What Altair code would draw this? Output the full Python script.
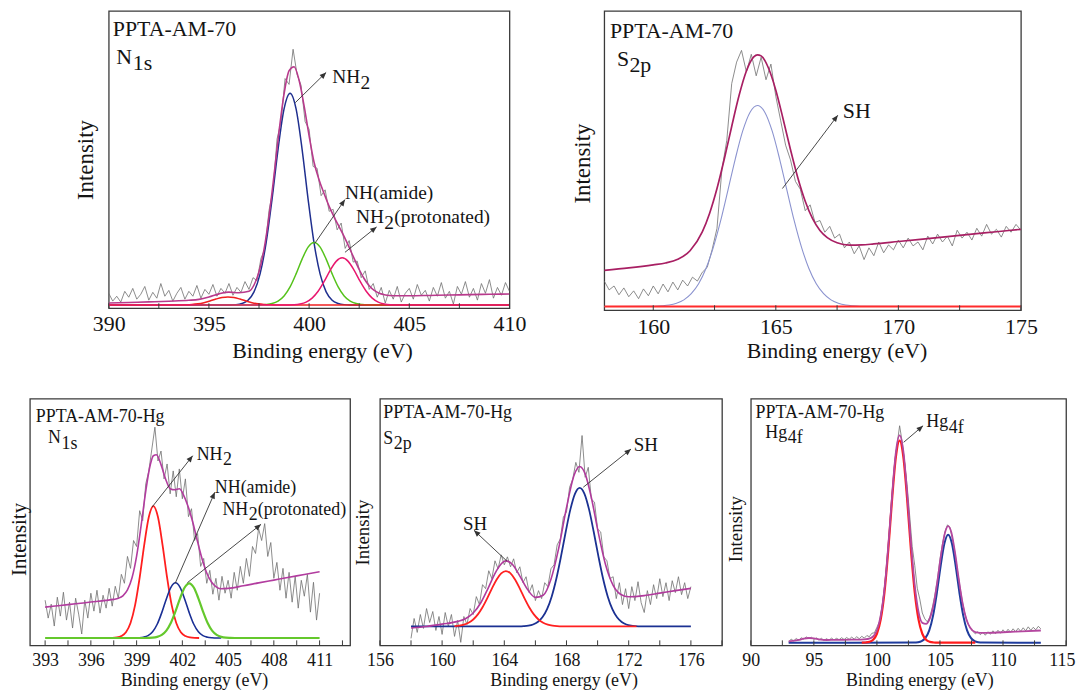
import math
import altair as alt
import pandas as pd

FONT = "Liberation Serif"
INK = "#141414"
FRAME = "#3a3a3a"
GRAY = "#6f6f6f"
ARROW = "#333333"
HEAD = "M0,0L-0.42,1L0.42,1Z"
XTITLE = "Binding energy (eV)"
YTITLE = "Intensity"

# ===================== Panel A : PPTA-AM-70, N1s =====================
A_RAW = [(390.0, 12), (390.2, 4), (390.4, 9), (390.6, 3), (390.8, 14), (391.0, 8), (391.2, 17), (391.4, 6),
         (391.6, 11), (391.8, 19), (392.0, 5), (392.2, 13), (392.4, 7), (392.6, 22), (392.8, 9), (393.0, 15),
         (393.2, 4), (393.4, 12), (393.6, 18), (393.8, 6), (394.0, 14), (394.2, 9), (394.4, 20), (394.6, 7),
         (394.8, 16), (395.0, 11), (395.2, 21), (395.4, 9), (395.6, 17), (395.8, 12), (396.0, 22), (396.2, 10),
         (396.4, 18), (396.6, 13), (396.8, 24), (397.0, 16), (397.2, 28), (397.4, 25), (397.6, 48), (397.8, 58),
         (398.0, 97), (398.2, 118), (398.4, 170), (398.6, 188), (398.8, 232), (399.0, 226), (399.2, 262),
         (399.4, 236), (399.6, 225), (399.8, 188), (400.0, 180), (400.2, 142), (400.4, 140), (400.6, 112),
         (400.8, 118), (401.0, 96), (401.2, 98), (401.4, 77), (401.6, 84), (401.8, 58), (402.0, 66), (402.2, 44),
         (402.4, 45), (402.6, 28), (402.8, 35), (403.0, 16), (403.2, 22), (403.4, 8), (403.6, 18), (403.8, 2),
         (404.0, 15), (404.2, 6), (404.4, 19), (404.6, 3), (404.8, 12), (405.0, 17), (405.2, 6), (405.4, 21),
         (405.6, 10), (405.8, 15), (406.0, 4), (406.2, 18), (406.4, 9), (406.6, 23), (406.8, 7), (407.0, 14),
         (407.2, 1), (407.4, 19), (407.6, 11), (407.8, 24), (408.0, 8), (408.2, 17), (408.4, 5), (408.6, 22),
         (408.8, 12), (409.0, 26), (409.2, 7), (409.4, 18), (409.6, 10), (409.8, 23), (410.0, 14)]
A_ENV = [(390, 2.0), (391, 2.6), (392, 3.2), (393, 3.9), (394, 4.8), (394.5, 5.8), (395, 8.2), (395.5, 11.4),
         (396, 13.2), (396.5, 12.6), (397, 14.1), (397.25, 20.5), (397.5, 34.0), (397.75, 57.0), (398, 90.8),
         (398.25, 133.0), (398.5, 178.0), (398.75, 216.3), (399, 240.0), (399.25, 244.1), (399.5, 230.3),
         (399.75, 204.0), (400, 173.3), (400.25, 146), (400.5, 128), (400.75, 114), (401, 101), (401.25, 90),
         (401.5, 80), (401.75, 70), (402, 59), (402.25, 47.5), (402.5, 36.4), (402.75, 26.9), (403, 19.7),
         (403.25, 14.9), (403.5, 12.0), (403.75, 10.6), (404, 9.8), (404.5, 9.5), (405, 9.5), (406, 9.8),
         (407, 10.2), (408, 10.6), (409, 11.0), (410, 11.3)]
A_NH2 = [(390, 0), (396.05, 0.1), (396.35, 0.4), (396.65, 1.6), (396.95, 4.9), (397.25, 13.5), (397.55, 31.7),
         (397.85, 63.1), (398.15, 108.3), (398.45, 159.5), (398.75, 200.9), (399.05, 217), (399.35, 200.9),
         (399.65, 159.5), (399.95, 108.3), (400.25, 63.1), (400.55, 31.7), (400.85, 13.5), (401.15, 4.9),
         (401.45, 1.6), (401.75, 0.4), (402.05, 0.1), (410, 0)]
A_AMIDE = [(390, 0), (397.25, 0), (397.55, 0.1), (397.85, 0.5), (398.15, 1.5), (398.45, 4.0), (398.75, 9.3),
           (399.05, 18.6), (399.35, 31.9), (399.65, 47.0), (399.95, 59.3), (400.25, 64), (400.55, 59.3),
           (400.85, 47.0), (401.15, 31.9), (401.45, 18.6), (401.75, 9.3), (402.05, 4.0), (402.35, 1.5),
           (402.65, 0.5), (402.95, 0.1), (403.25, 0), (410, 0)]
A_PROT = [(390, 0), (398.65, 0), (398.95, 0.1), (399.25, 0.3), (399.55, 1.1), (399.85, 3.0), (400.15, 7.1),
          (400.45, 14.1), (400.75, 24.1), (401.05, 35.5), (401.35, 44.7), (401.65, 48.3), (401.95, 44.7),
          (402.25, 35.5), (402.55, 24.1), (402.85, 14.1), (403.15, 7.1), (403.45, 3.0), (403.75, 1.1),
          (404.05, 0.3), (404.35, 0.1), (404.65, 0), (410, 0)]
A_LOW = [(390, 0), (392.95, 0), (393.25, 0), (393.55, 0.1), (393.85, 0.2), (394.15, 0.5), (394.45, 1.2),
         (394.75, 2.4), (395.05, 4.1), (395.35, 6.1), (395.65, 7.7), (395.95, 8.3), (396.25, 7.7), (396.55, 6.1),
         (396.85, 4.1), (397.15, 2.4), (397.45, 1.2), (397.75, 0.5), (398.05, 0.2), (398.35, 0.1), (398.65, 0),
         (410, 0)]
A_TICKS = [390, 392.5, 395, 397.5, 400, 402.5, 405, 407.5, 410]
A_LABELS = [390, 395, 400, 405, 410]

# ===================== Panel B : PPTA-AM-70, S2p =====================
B_RAW = [(158.0, 26), (158.2, 17), (158.4, 21), (158.6, 12), (158.8, 19), (159.0, 10), (159.2, 16), (159.4, 8),
         (159.6, 18), (159.8, 11), (160.0, 21), (160.2, 13), (160.4, 23), (160.6, 15), (160.8, 25), (161.0, 17),
         (161.2, 27), (161.4, 21), (161.6, 30), (161.8, 26), (162.0, 35), (162.2, 40), (162.4, 58), (162.6, 80),
         (162.8, 140), (163.0, 170), (163.2, 228), (163.4, 250), (163.6, 262), (163.8, 240), (164.0, 258),
         (164.2, 236), (164.4, 255), (164.6, 232), (164.8, 248), (165.0, 215), (165.2, 190), (165.4, 165),
         (165.6, 150), (165.8, 128), (166.0, 120), (166.2, 98), (166.4, 104), (166.6, 86), (166.8, 88),
         (167.0, 76), (167.2, 82), (167.4, 70), (167.6, 74), (167.8, 60), (168.0, 66), (168.2, 54), (168.4, 62),
         (168.6, 48), (168.8, 60), (169.0, 52), (169.2, 66), (169.4, 55), (169.6, 63), (169.8, 58), (170.0, 68),
         (170.2, 60), (170.4, 70), (170.6, 62), (170.8, 66), (171.0, 58), (171.2, 72), (171.4, 64), (171.6, 74),
         (171.8, 66), (172.0, 72), (172.2, 62), (172.4, 78), (172.6, 70), (172.8, 76), (173.0, 68), (173.2, 80),
         (173.4, 72), (173.6, 84), (173.8, 74), (174.0, 79), (174.2, 71), (174.4, 82), (174.6, 76), (174.8, 84),
         (175.0, 78)]
B_ENV = [(158, 37), (159, 39.5), (160, 42.6), (160.5, 44.5), (161, 48.3), (161.5, 57.0), (162, 76.3),
         (162.3, 95.5), (162.6, 120.7), (162.9, 151.1), (163.2, 184.2), (163.5, 215.8), (163.8, 240.9),
         (164.1, 255.3), (164.25, 257.5), (164.4, 256.4), (164.7, 244.0), (165.0, 221.3), (165.3, 191.6),
         (165.6, 160.3), (165.9, 131.5), (166.2, 107.7), (166.5, 89.8), (166.8, 77.8), (167.1, 70.5),
         (167.5, 65.2), (168, 62.8), (168.5, 63.0), (169, 64), (170, 66.5), (171, 69), (172, 71.5), (173, 74),
         (174, 76.5), (175, 79)]
B_SH = [(158, 0), (160.05, 0.3), (160.35, 0.7), (160.65, 1.5), (160.95, 3.4), (161.25, 6.8), (161.55, 13.1),
        (161.85, 23.2), (162.15, 38.9), (162.45, 60.5), (162.75, 87.8), (163.05, 119.3), (163.35, 151.4),
        (163.65, 179.6), (163.95, 198.8), (164.25, 205.7), (164.55, 198.8), (164.85, 179.6), (165.15, 151.4),
        (165.45, 119.3), (165.75, 87.8), (166.05, 60.5), (166.35, 38.9), (166.65, 23.2), (166.95, 13.1),
        (167.25, 6.8), (167.55, 3.4), (167.85, 1.5), (168.15, 0.7), (168.45, 0.3), (175, 0)]
B_BASE = [(158, 0), (175, 0)]
B_TICKS = [160, 162.5, 165, 167.5, 170, 172.5, 175]
B_LABELS = [160, 165, 170, 175]

# ===================== Panel C : PPTA-AM-70-Hg, N1s =====================
C_RAW = [(393.0, 38), (393.2, 20), (393.4, 34), (393.6, 12), (393.8, 41), (394.0, 22), (394.2, 46), (394.4, 18),
         (394.6, 36), (394.8, 10), (395.0, 40), (395.2, 24), (395.4, 4), (395.6, 38), (395.8, 20), (396.0, 45),
         (396.2, 27), (396.4, 48), (396.6, 25), (396.8, 43), (397.0, 30), (397.2, 50), (397.4, 32), (397.6, 52),
         (397.8, 40), (398.0, 64), (398.2, 55), (398.4, 82), (398.6, 70), (398.8, 98), (399.0, 92), (399.2, 128),
         (399.4, 118), (399.6, 155), (399.8, 168), (400.0, 190), (400.2, 212), (400.4, 178), (400.6, 188),
         (400.8, 160), (401.0, 175), (401.2, 145), (401.4, 168), (401.6, 142), (401.8, 170), (402.0, 140),
         (402.2, 160), (402.4, 122), (402.6, 130), (402.8, 98), (403.0, 105), (403.2, 72), (403.4, 80),
         (403.6, 55), (403.8, 68), (404.0, 44), (404.2, 60), (404.4, 38), (404.6, 62), (404.8, 45), (405.0, 58),
         (405.2, 40), (405.4, 66), (405.6, 48), (405.8, 72), (406.0, 55), (406.2, 80), (406.4, 62), (406.6, 92),
         (406.8, 85), (407.0, 110), (407.2, 98), (407.4, 115), (407.6, 82), (407.8, 96), (408.0, 60), (408.2, 76),
         (408.4, 48), (408.6, 70), (408.8, 40), (409.0, 66), (409.2, 36), (409.4, 62), (409.6, 30), (409.8, 58),
         (410.0, 42), (410.2, 64), (410.4, 26), (410.6, 56), (410.8, 18), (411.0, 45)]
C_ENV = [(393, 31), (394, 32.7), (395, 34.4), (396, 36.1), (397, 37.8), (397.5, 38.8), (397.8, 39.9),
         (398.1, 42.4), (398.4, 48.3), (398.7, 60.5), (399.0, 82.3), (399.3, 113.5), (399.6, 147.8),
         (399.9, 174.5), (400.1, 183.3), (400.3, 184.2), (400.6, 174.3), (400.9, 159.9), (401.2, 150.1),
         (401.5, 149), (401.8, 150), (402.1, 143), (402.4, 131.1), (402.7, 115.3), (403.0, 96.6), (403.3, 79.2),
         (403.6, 65.4), (403.9, 56.5), (404.2, 51.6), (404.5, 49.5), (405, 49.9), (406, 52.5), (407, 55.4),
         (408, 58.2), (409, 61), (410, 63.9), (411, 66.7)]
C_NH2 = [(397.1, 0), (397.4, 0.1), (397.7, 0.5), (398.0, 1.9), (398.3, 5.8), (398.6, 15.1), (398.9, 33.0),
         (399.2, 60.7), (399.5, 93.7), (399.8, 121.6), (400.1, 132.6), (400.4, 121.6), (400.7, 93.7),
         (401.0, 60.7), (401.3, 33.0), (401.6, 15.1), (401.9, 5.8), (402.2, 1.9), (402.5, 0.5), (402.8, 0.1),
         (403.1, 0)]
C_AMIDE = [(398.55, 0), (398.85, 0.0), (399.15, 0.2), (399.45, 0.8), (399.75, 2.4), (400.05, 6.3), (400.35, 13.8),
           (400.65, 25.5), (400.95, 39.3), (401.25, 51.0), (401.55, 55.6), (401.85, 51.0), (402.15, 39.3),
           (402.45, 25.5), (402.75, 13.8), (403.05, 6.3), (403.35, 2.4), (403.65, 0.8), (403.95, 0.2),
           (404.25, 0.0), (404.55, 0)]
C_PROT = [(393, 0), (399.45, 0), (399.75, 0.1), (400.05, 0.3), (400.35, 1.1), (400.65, 3.1), (400.95, 7.4),
          (401.25, 15.3), (401.55, 26.8), (401.85, 39.9), (402.15, 50.8), (402.45, 55), (402.75, 50.8),
          (403.05, 39.9), (403.35, 26.8), (403.65, 15.3), (403.95, 7.4), (404.25, 3.1), (404.55, 1.1),
          (404.85, 0.3), (405.15, 0.1), (405.45, 0), (411, 0)]
C_TICKS = [393, 394.5, 396, 397.5, 399, 400.5, 402, 403.5, 405, 406.5, 408, 409.5, 411, 412.5]
C_LABELS = [393, 396, 399, 402, 405, 408, 411]

# ===================== Panel D : PPTA-AM-70-Hg, S2p =====================
D_RAW = [(158.0, -12), (158.2, 8), (158.4, -6), (158.6, 12), (158.8, -2), (159.0, 18), (159.2, 4), (159.4, 15),
         (159.6, -4), (159.8, 10), (160.0, -8), (160.2, 14), (160.4, 0), (160.6, 12), (160.8, -10), (161.0, 6),
         (161.2, -16), (161.4, 10), (161.6, 2), (161.8, 18), (162.0, 12), (162.2, 30), (162.4, 22), (162.6, 42),
         (162.8, 38), (163.0, 56), (163.2, 48), (163.4, 66), (163.6, 58), (163.8, 72), (164.0, 62), (164.2, 70),
         (164.4, 60), (164.6, 68), (164.8, 54), (165.0, 60), (165.2, 44), (165.4, 50), (165.6, 34), (165.8, 42),
         (166.0, 26), (166.2, 36), (166.4, 28), (166.6, 44), (166.8, 40), (167.0, 58), (167.2, 62), (167.4, 82),
         (167.6, 88), (167.8, 110), (168.0, 115), (168.2, 140), (168.4, 148), (168.6, 165), (168.8, 155),
         (169.0, 192), (169.2, 150), (169.4, 160), (169.6, 128), (169.8, 125), (170.0, 98), (170.2, 95),
         (170.4, 70), (170.6, 66), (170.8, 48), (171.0, 50), (171.2, 28), (171.4, 44), (171.6, 22), (171.8, 38),
         (172.0, 18), (172.2, 40), (172.4, 26), (172.6, 45), (172.8, 24), (173.0, 14), (173.2, 36), (173.4, 22),
         (173.6, 42), (173.8, 28), (174.0, 48), (174.2, 30), (174.4, 44), (174.6, 26), (174.8, 46), (175.0, 34),
         (175.2, 50), (175.4, 32), (175.6, 44), (175.8, 28), (176.0, 40)]
D_ENV = [(158, -1.5), (159, 0), (160, 2.3), (161, 5.1), (161.5, 7.8), (162, 13.5), (162.5, 24.1), (163, 39.8),
         (163.5, 56.2), (164, 65.6), (164.1, 65.9), (164.5, 62.8), (165, 50.6), (165.5, 37.0), (166, 29.2),
         (166.5, 31.3), (167, 47.4), (167.5, 78.7), (168, 119.4), (168.5, 152.5), (168.85, 160.8), (169.2, 153.4),
         (169.6, 129.4), (170, 97.8), (170.5, 62.8), (171, 41.3), (171.5, 32.1), (172, 29.8), (173, 31),
         (174, 33.5), (175, 36), (176, 38.3)]
D_SH1 = [(160.8, 0.3), (161.1, 0.8), (161.4, 1.8), (161.7, 3.7), (162.0, 7.0), (162.3, 12.1), (162.6, 19.3),
         (162.9, 28.2), (163.2, 38.0), (163.5, 47.0), (163.8, 53.4), (164.1, 55.7), (164.4, 53.4), (164.7, 47.0),
         (165.0, 38.0), (165.3, 28.2), (165.6, 19.3), (165.9, 12.1), (166.2, 7.0), (166.5, 3.7), (166.8, 1.8),
         (167.1, 0.8), (167.4, 0.3), (167.7, 0.1), (172.5, 0)]
D_SH2 = [(158, 0), (164.95, 0.1), (165.25, 0.3), (165.55, 0.8), (165.85, 2.0), (166.15, 4.5), (166.45, 9.2),
         (166.75, 17.4), (167.05, 30.2), (167.35, 48.2), (167.65, 70.7), (167.95, 95.2), (168.25, 117.7),
         (168.55, 133.6), (168.85, 139.4), (169.15, 133.6), (169.45, 117.7), (169.75, 95.2), (170.05, 70.7),
         (170.35, 48.2), (170.65, 30.2), (170.95, 17.4), (171.25, 9.2), (171.55, 4.5), (171.85, 2.0),
         (172.15, 0.8), (172.45, 0.3), (172.75, 0.1), (176, 0)]
D_TICKS = [156, 158, 160, 162, 164, 166, 168, 170, 172, 174, 176, 178]
D_LABELS = [156, 160, 164, 168, 172, 176]

# ===================== Panel E : PPTA-AM-70-Hg, Hg4f =====================
E_RAW = [(93.0, 1.0), (93.2, 3.5), (93.4, 1.8), (93.6, 4.2), (93.8, 2.5), (94.0, 5.0), (94.2, 3.6), (94.4, 5.8),
         (94.6, 4.0), (94.8, 5.5), (95.0, 3.2), (95.2, 4.8), (95.4, 2.6), (95.6, 4.4), (95.8, 2.2), (96.0, 4.0),
         (96.2, 2.5), (96.4, 4.6), (96.6, 2.8), (96.8, 4.4), (97.0, 3.0), (97.2, 5.0), (97.4, 3.2), (97.6, 5.2),
         (97.8, 3.4), (98.0, 5.6), (98.2, 3.6), (98.4, 6.0), (98.6, 4.0), (98.8, 6.4), (99.0, 4.6), (99.2, 7.2),
         (99.4, 6.0), (99.6, 9.5), (99.8, 10.0), (100.0, 15.5), (100.2, 21.0), (100.4, 36.0), (100.6, 56.0),
         (100.8, 82.0), (101.0, 116.0), (101.2, 150.0), (101.4, 180.0), (101.6, 200.0), (101.8, 219.0),
         (102.0, 203.0), (102.2, 182.0), (102.4, 158.0), (102.6, 128.0), (102.8, 97.0), (103.0, 78.0),
         (103.2, 55.0), (103.4, 44.0), (103.6, 30.0), (103.8, 24.0), (104.0, 21.0), (104.2, 26.0), (104.4, 36.0),
         (104.6, 48.0), (104.8, 64.0), (105.0, 84.0), (105.2, 100.0), (105.4, 112.0), (105.6, 119.0),
         (105.8, 116.0), (106.0, 104.0), (106.2, 90.0), (106.4, 72.0), (106.6, 55.0), (106.8, 40.0),
         (107.0, 28.0), (107.2, 20.0), (107.4, 15.0), (107.6, 11.5), (107.8, 9.0), (108.0, 11.0), (108.2, 8.0),
         (108.4, 10.5), (108.6, 7.5), (108.8, 11.0), (109.0, 8.5), (109.2, 12.0), (109.4, 9.0), (109.6, 12.5),
         (109.8, 9.5), (110.0, 13.0), (110.2, 10.0), (110.4, 13.5), (110.6, 10.5), (110.8, 14.0), (111.0, 11.0),
         (111.2, 14.5), (111.4, 11.5), (111.6, 15.0), (111.8, 12.0), (112.0, 16.0), (112.2, 12.5), (112.4, 15.5),
         (112.6, 13.0), (112.8, 16.5), (113.0, 14.0)]
E_ENV = [(93, 1.3), (93.8, 2.7), (94.2, 4.1), (94.6, 4.7), (95.0, 4.4), (95.4, 3.4), (96, 2.7), (97, 2.8),
         (98, 3.0), (99, 3.3), (99.5, 4.6), (99.8, 7.7), (100.1, 16.2), (100.4, 34.5), (100.7, 67.3),
         (101.0, 114.0), (101.3, 164.7), (101.5, 191.9), (101.8, 209.2), (102.1, 192.8), (102.4, 150.3),
         (102.7, 100.0), (103.0, 57.9), (103.3, 31.1), (103.6, 20), (103.9, 19), (104.2, 24.5), (104.5, 38.6),
         (104.8, 62.5), (105.1, 89.8), (105.4, 111.1), (105.65, 117.6), (105.9, 111.4), (106.2, 90.3),
         (106.5, 63.3), (106.8, 39.5), (107.1, 23.5), (107.4, 15.0), (107.8, 10.7), (108.5, 9.8), (110, 10.5),
         (111.5, 11.4), (113, 12.3)]
E_HG1 = [(98.8, 0), (99.1, 0.2), (99.4, 0.8), (99.7, 2.9), (100.0, 9.0), (100.3, 23.3), (100.6, 50.8),
         (100.9, 93.4), (101.2, 144.2), (101.5, 187.1), (101.8, 204), (102.1, 187.1), (102.4, 144.2),
         (102.7, 93.4), (103.0, 50.8), (103.3, 23.3), (103.6, 9.0), (103.9, 2.9), (104.2, 0.8), (104.5, 0.2),
         (104.8, 0), (107.8, 0)]
E_HG2 = [(93, 0), (102.95, 0.1), (103.25, 0.4), (103.55, 1.5), (103.85, 4.8), (104.15, 12.4), (104.45, 27.1),
         (104.75, 49.9), (105.05, 77.1), (105.35, 100.0), (105.65, 109), (105.95, 100.0), (106.25, 77.1),
         (106.55, 49.9), (106.85, 27.1), (107.15, 12.4), (107.45, 4.8), (107.75, 1.5), (108.05, 0.4),
         (108.35, 0.1), (113, 0)]
E_TICKS = [90, 92.5, 95, 97.5, 100, 102.5, 105, 107.5, 110, 112.5, 115]
E_LABELS = [90, 95, 100, 105, 110, 115]


def pts(pairs):
    return pd.DataFrame(pairs, columns=["x", "y"])


def panel(p):
    w, h = p["w"], p["h"]
    xd, yd = p["xdom"], p["ydom"]
    xs = alt.Scale(domain=xd, nice=False, zero=False)
    ys = alt.Scale(domain=yd, nice=False, zero=False)
    flush = p.get("flush", 0)
    xaxis = alt.Axis(values=p["labels"], format="d", labelFlush=bool(flush), labelFlushOffset=flush,
                     labelOverlap=False, labelFont=FONT, titleFont=FONT, labelColor=INK, titleColor=INK,
                     labelFontSize=p["lab"], labelPadding=p["labpad"], title=XTITLE,
                     titleFontSize=p["xt"], titleFontWeight="normal", titlePadding=p["xtpad"],
                     titleX=w / 2 + p["xtdx"], ticks=False, tickSize=0, domain=False, grid=False)
    yaxis = alt.Axis(labels=False, ticks=False, domain=False, grid=False, title=YTITLE, titleFont=FONT,
                     titleColor=INK, titleFontWeight="normal", titleFontSize=p["yt"],
                     titlePadding=p["ytpad"], titleY=h / 2 + p["ytdy"])

    def enc(ch, **kw):
        return ch.encode(x=alt.X("x:Q", scale=xs, axis=xaxis), y=alt.Y("y:Q", scale=ys, axis=yaxis), **kw)

    layers = [enc(alt.Chart(pts(p["raw"])).mark_line(color=GRAY, strokeWidth=0.8, clip=True))]
    for data, color, sw in p["curves"]:
        layers.append(enc(alt.Chart(pts(data)).mark_line(color=color, strokeWidth=sw,
                                                         interpolate="monotone", clip=True)))
    layers.append(enc(alt.Chart(pts(p["env"])).mark_line(color=p["envc"], strokeWidth=p["envw"],
                                                         interpolate="monotone", clip=True)))
    layers.append(alt.Chart(pd.DataFrame({"t": p["ticks"]})).mark_rule(color=FRAME, strokeWidth=1).encode(
        x=alt.X("t:Q", scale=xs, axis=xaxis), y=alt.value(h), y2=alt.value(h - 5)))
    for t in p["texts"]:
        s, x, y, size = t[:4]
        dx = t[4] if len(t) > 4 else 0
        dy = t[5] if len(t) > 5 else 0
        d = pd.DataFrame({"x": [x], "y": [y], "s": [s]})
        layers.append(enc(alt.Chart(d).mark_text(align="left", baseline="alphabetic", font=FONT,
                                                 fontSize=size, color=INK, dx=dx, dy=dy), text="s:N"))
    kx = w / (xd[1] - xd[0])
    ky = h / (yd[1] - yd[0])
    for x1, y1, x2, y2 in p["arrows"]:
        d = pd.DataFrame({"x": [x1], "y": [y1], "x2": [x2], "y2": [y2]})
        layers.append(enc(alt.Chart(d).mark_rule(color=ARROW, strokeWidth=0.9), x2="x2:Q", y2="y2:Q"))
        ang = math.degrees(math.atan2((x2 - x1) * kx, (y2 - y1) * ky)) % 360
        layers.append(enc(alt.Chart(pd.DataFrame({"x": [x2], "y": [y2]})).mark_point(
            shape=HEAD, filled=True, size=170, angle=ang, color=ARROW, opacity=1, strokeWidth=0)))
    return alt.layer(*layers).properties(width=w, height=h)


top_common = dict(lab=22, xt=22, yt=23)
bot_common = dict(lab=18, xt=18, labpad=6, xtpad=2)

pA = panel(dict(top_common, w=403, h=299, xdom=[390, 410], ydom=[-3.3, 301.3], raw=A_RAW, env=A_ENV,
                envc="#b83a8c", envw=1.6,
                curves=[(A_NH2, "#1f2f8f", 1.5), (A_AMIDE, "#55c21b", 1.5), (A_LOW, "#f02020", 1.5),
                        (A_PROT, "#e8176f", 1.5)],
                ticks=A_TICKS, labels=A_LABELS, labpad=5, xtpad=7, xtdx=13, ytpad=11, ytdy=0,
                texts=[("PPTA-AM-70", 390.2, 275.7, 22), ("N", 390.38, 247.3, 22), ("1s", 390.38, 247.3, 22, 16.5, 6.6),
                       ("NH", 401.15, 227.3, 19.5), ("2", 401.15, 227.3, 19.5, 28.5, 6),
                       ("NH(amide)", 401.79, 109, 19.5),
                       ("NH", 402.34, 84, 19.5), ("2", 402.34, 84, 19.5, 28.5, 6),
                       ("(protonated)", 402.34, 84, 19.5, 38.5, 0)],
                arrows=[(399.31, 207.3, 400.85, 238.3), (400.29, 63.3, 401.79, 108), (401.79, 54, 403.37, 80)]))

pB = panel(dict(top_common, w=419, h=301, xdom=[158, 175], ydom=[-3.8, 302.4], raw=B_RAW, env=B_ENV,
                envc="#a81f63", envw=1.7,
                curves=[(B_SH, "#8b93cf", 1.1), (B_BASE, "#ff2b2b", 2)],
                ticks=B_TICKS, labels=B_LABELS, labpad=6, xtpad=4, xtdx=24, ytpad=9.9, ytdy=2.5,
                texts=[("PPTA-AM-70", 158.23, 275, 22), ("S", 158.52, 246.4, 22), ("2p", 158.52, 246.4, 22, 12.5, 6.6),
                       ("SH", 167.73, 193, 22)],
                arrows=[(165.27, 120.7, 167.53, 195.7)]))

pC = panel(dict(bot_common, w=322, h=248, xdom=[392, 413], ydom=[-7.4, 240.6], raw=C_RAW, env=C_ENV,
                envc="#b23c9f", envw=1.6, yt=21,
                curves=[(C_NH2, "#ff1f1f", 1.8), (C_AMIDE, "#1a2f95", 1.6), (C_PROT, "#64c82c", 2.2)],
                ticks=C_TICKS, labels=C_LABELS, xtdx=4, ytpad=0, ytdy=17,
                texts=[("PPTA-AM-70-Hg", 392.39, 217.3, 18), ("N", 393.19, 195.6, 18), ("1s", 393.19, 195.6, 18, 13.5, 5.4),
                       ("NH", 402.94, 179, 18), ("2", 402.94, 179, 18, 26.5, 5),
                       ("NH(amide)", 404.13, 145.6, 18),
                       ("NH", 404.63, 123.3, 18), ("2", 404.63, 123.3, 18, 26.5, 5),
                       ("(protonated)", 404.63, 123.3, 18, 35.5, 0)],
                arrows=[(400.01, 131.6, 402.68, 183.3), (401.53, 55, 404.13, 146.6), (402.33, 55.6, 407.16, 114.3)]))

pD = panel(dict(bot_common, w=344, h=248, xdom=[156, 178], ydom=[-19, 229], raw=D_RAW, env=D_ENV,
                envc="#b03a9c", envw=1.6, yt=19,
                curves=[(D_SH2, "#1b3192", 1.8), (D_SH1, "#ff2020", 1.8)],
                ticks=D_TICKS, labels=D_LABELS, xtdx=12.7, ytpad=7.5, ytdy=10,
                texts=[("PPTA-AM-70-Hg", 156.22, 209.4, 18), ("S", 156.22, 183.4, 18), ("2p", 156.22, 183.4, 18, 10.5, 5.4),
                       ("SH", 161.34, 97.4, 19), ("SH", 172.32, 176, 19)],
                arrows=[(164.17, 65.7, 162.05, 96.7), (169.08, 140, 172.15, 178.4)]))

pE = panel(dict(bot_common, w=317, h=248, xdom=[90, 115], ydom=[-2.7, 246.3], raw=E_RAW, env=E_ENV,
                envc="#b4479f", envw=1.8, yt=19, flush=9,
                curves=[(E_HG2, "#1f3c9d", 2.0), (E_HG1, "#ff1c1c", 2.2)],
                ticks=E_TICKS, labels=E_LABELS, xtdx=11, ytpad=5.5, ytdy=6.6,
                texts=[("PPTA-AM-70-Hg", 90.38, 226.7, 18), ("Hg", 91.15, 206.7, 18), ("4f", 91.15, 206.7, 18, 22.5, 5.4),
                       ("Hg", 103.92, 217.3, 18), ("4f", 103.92, 217.3, 18, 22.5, 5.4)],
                arrows=[(102.12, 202.3, 103.66, 219)]))

spacer = alt.Chart(pd.DataFrame({"a": [0]})).mark_rule(opacity=0).encode(
    x=alt.value(0), x2=alt.value(1), y=alt.value(5)).properties(
    width=1, height=10, view=alt.ViewBackground(strokeOpacity=0, strokeWidth=0))

row1 = alt.hconcat(spacer, pA, pB, spacing=43.3)
row2 = alt.hconcat(pC, pD, pE, spacing=1)
chart = alt.vconcat(row1, row2, spacing=35).properties(padding=0, background="white")
chart = chart.configure_view(stroke=FRAME, strokeWidth=1.3).configure_axis(
    grid=False, domain=False, ticks=False, tickSize=0, labelFont=FONT, titleFont=FONT,
    titleFontWeight="normal", labelColor=INK, titleColor=INK)

chart.save("out.html", embed_options={"renderer": "svg", "actions": False})
